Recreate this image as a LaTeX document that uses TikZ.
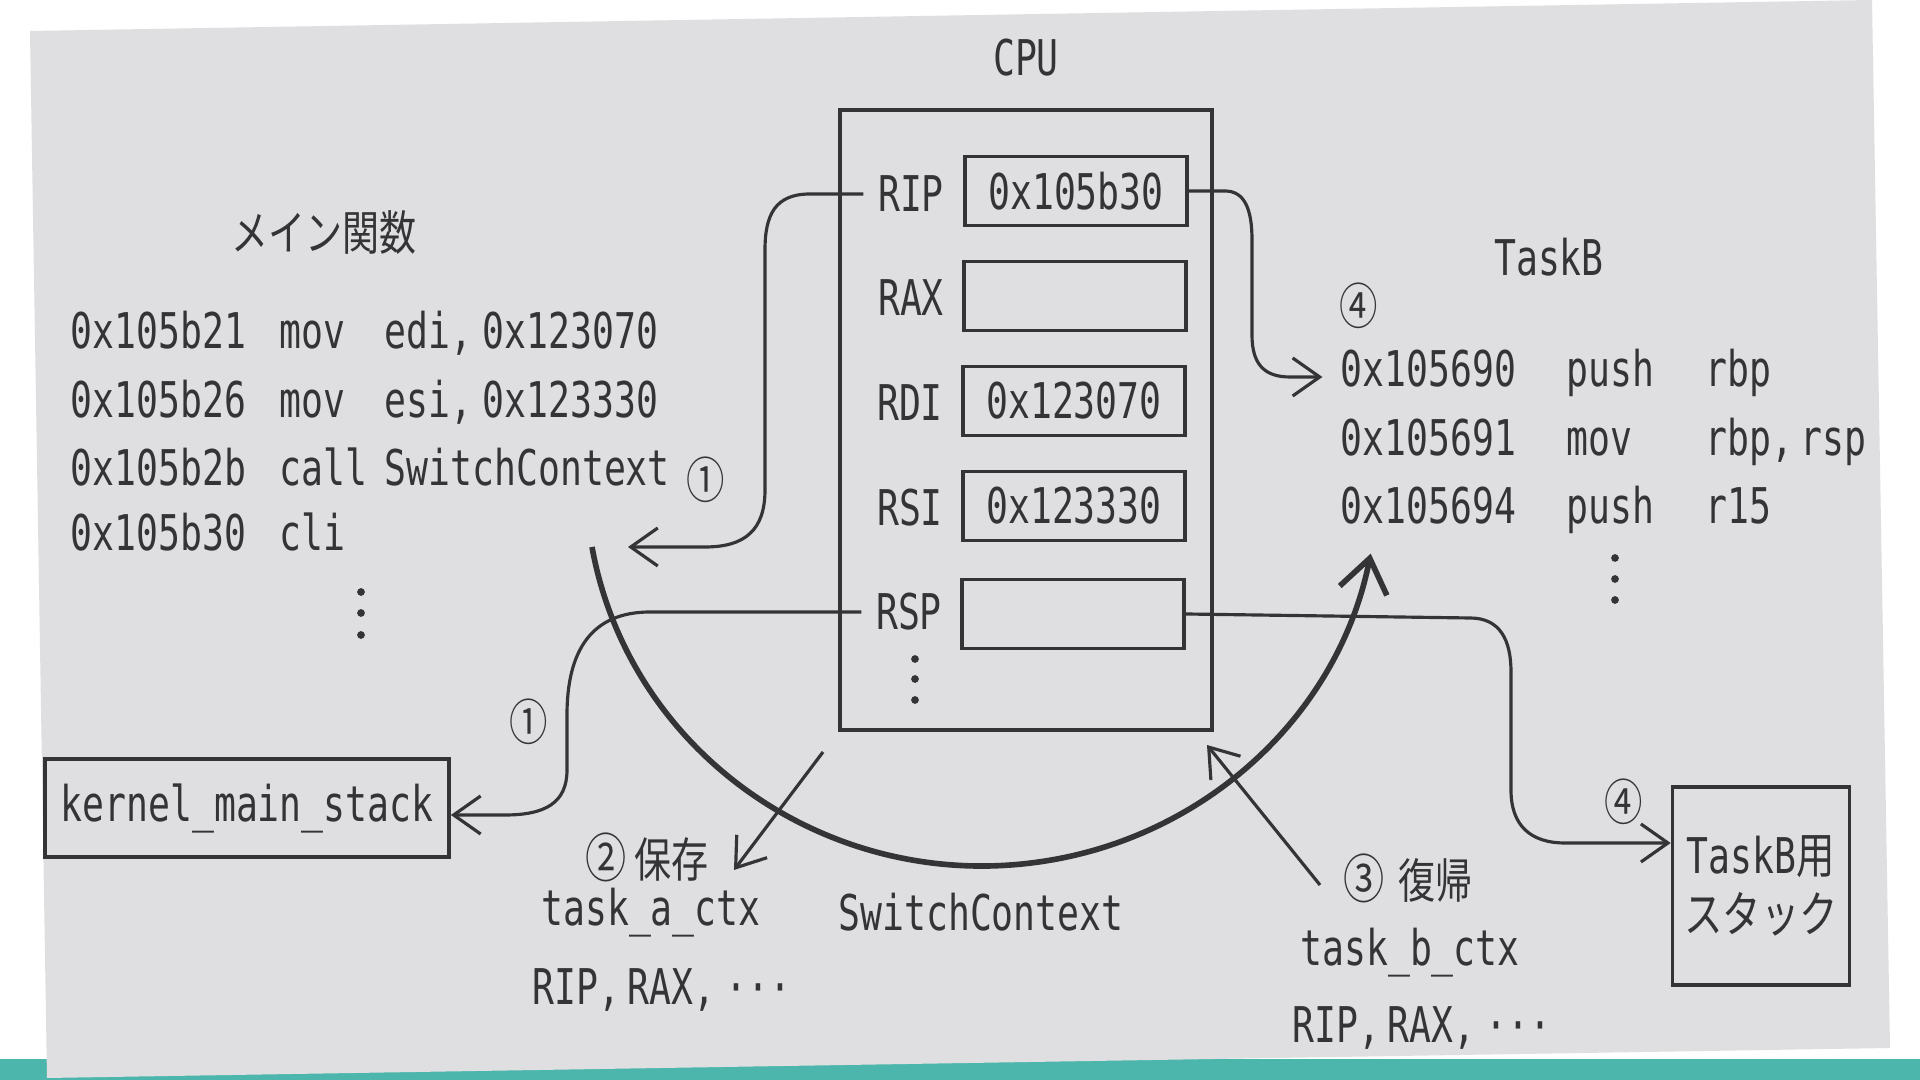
\documentclass[tikz,border=0pt]{standalone}
\usepackage{fontspec}
\setmainfont{DejaVu Sans Mono}[FakeStretch=0.74]
\newfontfamily\cjk{Noto Sans CJK JP}[FakeStretch=0.78]
\usetikzlibrary{arrows.meta}
\definecolor{pagegray}{RGB}{223,223,225}
\definecolor{inkgray}{RGB}{52,52,55}
\definecolor{tealband}{RGB}{77,182,172}

\begin{document}
\begin{tikzpicture}[
    x=0.01cm, y=-0.01cm,
    line/.style={draw=inkgray, line width=0.9pt},
    conn/.style={line, -{Straight Barb[length=2.7mm, width=3.8mm]}},
    txt/.style={text=inkgray, font=\fontsize{14}{16}\selectfont},
    code/.style={txt, anchor=west, inner sep=0pt, text height=0.75em, text depth=0.2em},
    reglabel/.style={txt, inner sep=4pt},
    regbox/.style={txt, draw=inkgray, line width=1pt, minimum width=2.22cm, minimum height=0.69cm, inner sep=0pt},
    jp/.style={text=inkgray, font=\cjk\fontsize{13.5}{15}\selectfont},
    num/.style={text=inkgray, font=\cjk\fontsize{14}{15}\selectfont, inner sep=1pt},
    dotmark/.style={inkgray}
]
    \useasboundingbox (0,0) rectangle (1920,1080);

    % Photo background
    \fill[white] (0,0) rectangle (1920,1080);
    \fill[tealband] (0,1059) rectangle (1920,1080);
    \fill[pagegray] (30,31) -- (1872,0) -- (1890,1048) -- (47,1078) -- cycle;

    % CPU with registers
    \node[txt] (cpulabel) at (1026,58) {CPU};
    \node[line, line width=1pt, minimum width=3.72cm, minimum height=6.2cm, inner sep=0pt] (cpu) at (1026,420) {};
    \node[reglabel] (ripl) at (911,194) {RIP};
    \node[regbox] (ripv) at (1076,191) {0x105b30};
    \node[reglabel] (raxl) at (911,298) {RAX};
    \node[regbox] (raxv) at (1075,296) {};
    \node[reglabel] (rdil) at (910,403) {RDI};
    \node[regbox] (rdiv) at (1074,401) {0x123070};
    \node[reglabel] (rsil) at (910,508) {RSI};
    \node[regbox] (rsiv) at (1074,506) {0x123330};
    \node[reglabel] (rspl) at (909,612) {RSP};
    \node[regbox] (rspv) at (1073,614) {};
    \fill[dotmark] (915,659) circle[radius=1.1pt] (915,679) circle[radius=1.1pt] (915,700) circle[radius=1.1pt];

    % Main function
    \node[jp] (mainfn) at (324,233) {メイン関数};
    \node[code] (a1) at (70,339) {0x105b21};
    \node[code] (m1) at (279,339) {mov};
    \node[code] (o1) at (384,339) {edi,\kern3pt 0x123070};
    \node[code] (a2) at (70,408) {0x105b26};
    \node[code] (m2) at (279,408) {mov};
    \node[code] (o2) at (384,408) {esi,\kern3pt 0x123330};
    \node[code] (a3) at (70,476) {0x105b2b};
    \node[code] (m3) at (279,476) {call};
    \node[code] (o3) at (384,476) {SwitchContext};
    \node[num] (n1a) at (706,480) {①};
    \node[code] (a4) at (70,541) {0x105b30};
    \node[code] (m4) at (279,541) {cli};
    \fill[dotmark] (361,592) circle[radius=1.1pt] (361,613) circle[radius=1.1pt] (361,635) circle[radius=1.1pt];

    % TaskB
    \node[txt] (taskb) at (1549,257) {TaskB};
    \node[num] (n4a) at (1359,306) {④};
    \node[code] (b1) at (1340,377) {0x105690};
    \node[code] (p1) at (1566,377) {push};
    \node[code] (q1) at (1705,377) {rbp};
    \node[code] (b2) at (1340,446) {0x105691};
    \node[code] (p2) at (1566,446) {mov};
    \node[code] (q2) at (1705,446) {rbp,\kern2pt rsp};
    \node[code] (b3) at (1340,514) {0x105694};
    \node[code] (p3) at (1566,514) {push};
    \node[code] (q3) at (1705,514) {r15};
    \fill[dotmark] (1615,558) circle[radius=1.1pt] (1615,579) circle[radius=1.1pt] (1615,600) circle[radius=1.1pt];

    % Stacks
    \node[txt, draw=inkgray, line width=1pt, minimum width=4.04cm, minimum height=0.98cm, inner sep=0pt] (kms) at (247,808) {kernel\_main\_stack};
    \node[txt, draw=inkgray, line width=1pt, minimum width=1.77cm, minimum height=1.98cm, inner sep=0pt, align=center] (tbstack) at (1761,886) {TaskB{\cjk 用}\\[1pt]{\cjk スタック}};
    \node[num] (n1b) at (529,722) {①};
    \node[num] (n4b) at (1624,802) {④};

    % Contexts
    \node[jp] (savelbl) at (647,857) {{\fontsize{15}{15}\selectfont ②}\,保存};
    \node[txt] (taskactx) at (651,913) {task\_a\_ctx};
    \node[txt] (regsa) at (662,990) {RIP,\kern2pt RAX,\kern3pt ···};
    \node[txt] (swctx) at (981,912) {SwitchContext};
    \node[jp] (restorelbl) at (1408,878) {{\fontsize{15}{15}\selectfont ③}\hspace{0.3em}復帰};
    \node[txt] (taskbctx) at (1410,953) {task\_b\_ctx};
    \node[txt] (regsb) at (1422,1028) {RIP,\kern2pt RAX,\kern3pt ···};

    % Connectors
    \coordinate (ripret) at (628,547);
    \draw[conn] (ripl.west) -- (810,194) .. controls (775,194) and (765,215) .. (765,250) -- (765,490) .. controls (765,530) and (745,547) .. (705,547) -- (ripret);
    \draw[conn, shorten >=5pt] (ripv.east) -- (1225,191) .. controls (1245,191) and (1252,210) .. (1252,240) -- (1252,335) .. controls (1252,365) and (1265,377) .. (1290,377) -- (b1.west);
    \draw[conn] (rspl.west) -- (650,612) .. controls (592,612) and (567,650) .. (567,715) -- (567,770) .. controls (567,803) and (545,815) .. (505,815) -- (kms.east |- 0,815);
    \draw[conn] (rspv.east) -- (1470,618) .. controls (1500,618) and (1511,640) .. (1511,672) -- (1511,790) .. controls (1511,825) and (1530,843) .. (1565,843) -- (tbstack.west |- 0,843);

    % SwitchContext arc
    \coordinate (arcstart) at (592,547);
    \draw[line, line width=1.6pt, -{Straight Barb[length=3.3mm, width=4.8mm]}] (arcstart) arc[start angle=170, end angle=11, x radius=396, y radius=386];

    % Save and restore
    \coordinate (savefrom) at (823,752);
    \coordinate (saveto) at (734,870);
    \draw[conn] (savefrom) -- (saveto);
    \coordinate (restfrom) at (1320,885);
    \coordinate (restto) at (1207,745);
    \draw[conn] (restfrom) -- (restto);

\end{tikzpicture}
\end{document}
